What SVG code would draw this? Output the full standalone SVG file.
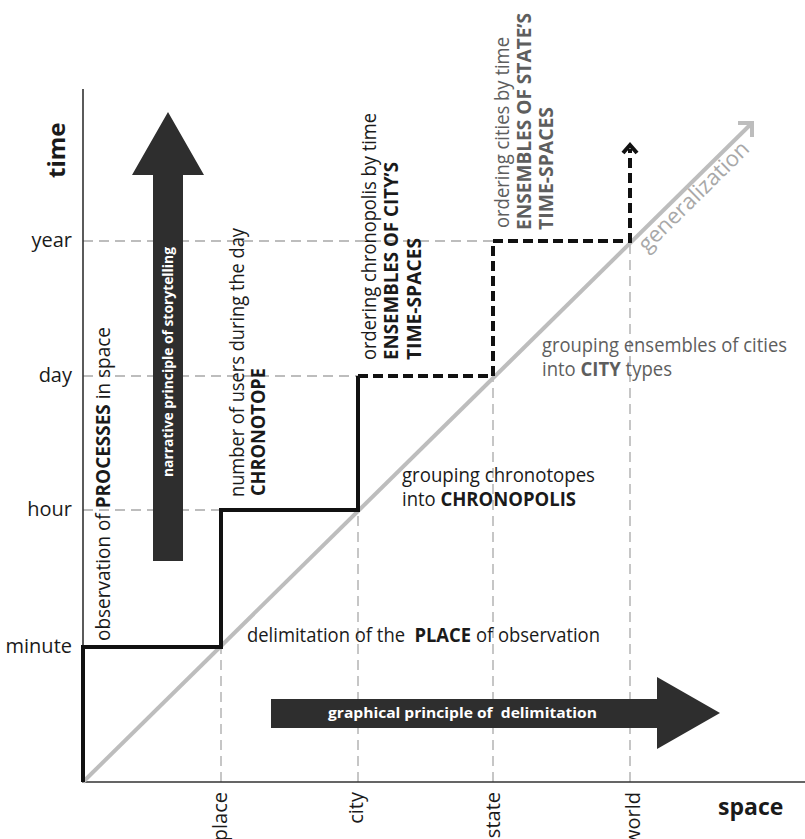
<svg xmlns="http://www.w3.org/2000/svg" width="805" height="839" viewBox="0 0 805 839">
  <style>
    text { font-family: "Open Sans", "Liberation Sans", sans-serif; fill: #1a1a1a; }
    .b { font-weight: 700; }
    .lbl { font-size: 20px; }
    .tick { font-size: 20px; }
    .grey { fill: #5e5e5e; }
    .gen { fill: #a8a8a8; font-size: 22px; }
    .inv { fill: #ffffff; font-weight: 700; font-size: 15px; }
    .grid { stroke: #a8a8a8; stroke-width: 1.3; stroke-dasharray: 10 6; fill: none; }
    .axis { stroke: #333333; stroke-width: 1.6; fill: none; }
    .step { stroke: #111111; stroke-width: 4; fill: none; stroke-linejoin: miter; }
    .stepd { stroke: #111111; stroke-width: 4; fill: none; stroke-dasharray: 10 5; }
    .diag { stroke: #bdbdbd; stroke-width: 4; fill: none; }
    .big { fill: #2e2e2e; }
  </style>

  <!-- reference grid -->
  <g id="grid">
    <path class="grid" d="M83 241 H493"/>
    <path class="grid" d="M83 376 H358"/>
    <path class="grid" d="M83 510 H221"/>
    <path class="grid" d="M221 782 V647"/>
    <path class="grid" d="M358 782 V510"/>
    <path class="grid" d="M493 782 V376"/>
    <path class="grid" d="M630 782 V241"/>
  </g>

  <!-- axes -->
  <g id="axes">
    <path class="axis" d="M83 89 V782 H805"/>
    <text class="b" font-size="24" transform="translate(65,178) rotate(-90)">time</text>
    <text class="b" font-size="23" x="718" y="815">space</text>
    <g id="time-ticks">
      <text class="tick" x="72" y="247" text-anchor="end">year</text>
      <text class="tick" x="72" y="382" text-anchor="end">day</text>
      <text class="tick" x="72" y="516" text-anchor="end">hour</text>
      <text class="tick" x="72" y="653" text-anchor="end">minute</text>
    </g>
    <g id="space-ticks">
      <text class="tick" text-anchor="end" transform="translate(227,792) rotate(-90)">place</text>
      <text class="tick" text-anchor="end" transform="translate(363,792) rotate(-90)">city</text>
      <text class="tick" text-anchor="end" transform="translate(500,792) rotate(-90)">state</text>
      <text class="tick" text-anchor="end" transform="translate(640,792) rotate(-90)">world</text>
    </g>
  </g>

  <!-- generalization diagonal -->
  <g id="generalization">
    <path class="diag" d="M83 782 L752 123"/>
    <polyline class="diag" points="738,123 752,123 752,137"/>
    <text class="gen" textLength="146" lengthAdjust="spacingAndGlyphs" transform="translate(647,253) rotate(-44.7)">generalization</text>
  </g>

  <!-- connectors: scale staircase -->
  <g id="connectors">
    <path class="step" d="M83 782 V647 H221 V510 H358 V376"/>
    <path class="stepd" d="M358 376 H493 V241 H630 V149"/>
    <polyline class="step" points="623,153 630,145 637,153"/>
  </g>

  <!-- principle arrows -->
  <g id="narrative-arrow">
    <polygon class="big" points="153,561 183,561 183,175 204,175 168,112 132,175 153,175"/>
    <text class="inv" textLength="230" lengthAdjust="spacingAndGlyphs" transform="translate(173,477) rotate(-90)">narrative principle of storytelling</text>
  </g>
  <g id="graphical-arrow">
    <polygon class="big" points="271,699 657,699 657,677 720,713 657,749 657,728 271,728"/>
    <text class="inv" x="328" y="718" textLength="269" lengthAdjust="spacingAndGlyphs">graphical principle of <tspan dx="4">delimitation</tspan></text>
  </g>

  <!-- step annotations -->
  <g id="node-processes">
    <text class="lbl" textLength="314" lengthAdjust="spacingAndGlyphs" transform="translate(110,641) rotate(-90)">observation of <tspan class="b">PROCESSES</tspan> in space</text>
  </g>
  <g id="node-place">
    <text class="lbl" x="247" y="642" textLength="353" lengthAdjust="spacingAndGlyphs">delimitation of the <tspan class="b" dx="5">PLACE</tspan> of observation</text>
  </g>
  <g id="node-chronotope">
    <text class="lbl" textLength="269" lengthAdjust="spacingAndGlyphs" transform="translate(244,497) rotate(-90)">number of users during the day</text>
    <text class="lbl b" textLength="128" lengthAdjust="spacingAndGlyphs" transform="translate(265,496) rotate(-90)">CHRONOTOPE</text>
  </g>
  <g id="node-chronopolis">
    <text class="lbl" x="402" y="482" textLength="193" lengthAdjust="spacingAndGlyphs">grouping chronotopes</text>
    <text class="lbl" x="402" y="506" textLength="174" lengthAdjust="spacingAndGlyphs">into <tspan class="b">CHRONOPOLIS</tspan></text>
  </g>
  <g id="node-city-ensembles">
    <text class="lbl" textLength="247" lengthAdjust="spacingAndGlyphs" transform="translate(376,360) rotate(-90)">ordering chronopolis by time</text>
    <text class="lbl b" textLength="198" lengthAdjust="spacingAndGlyphs" transform="translate(398,360) rotate(-90)">ENSEMBLES OF CITY’S</text>
    <text class="lbl b" textLength="122" lengthAdjust="spacingAndGlyphs" transform="translate(421,360) rotate(-90)">TIME-SPACES</text>
  </g>
  <g id="node-city-types">
    <text class="lbl grey" x="542" y="352" textLength="245" lengthAdjust="spacingAndGlyphs">grouping ensembles of cities</text>
    <text class="lbl grey" x="542" y="376" textLength="130" lengthAdjust="spacingAndGlyphs">into <tspan class="b">CITY</tspan> types</text>
  </g>
  <g id="node-state-ensembles">
    <text class="lbl grey" textLength="191" lengthAdjust="spacingAndGlyphs" transform="translate(509,228) rotate(-90)">ordering cities by time</text>
    <text class="lbl grey b" textLength="217" lengthAdjust="spacingAndGlyphs" transform="translate(531,230) rotate(-90)">ENSEMBLES OF STATE’S</text>
    <text class="lbl grey b" textLength="123" lengthAdjust="spacingAndGlyphs" transform="translate(553,230) rotate(-90)">TIME-SPACES</text>
  </g>
</svg>
